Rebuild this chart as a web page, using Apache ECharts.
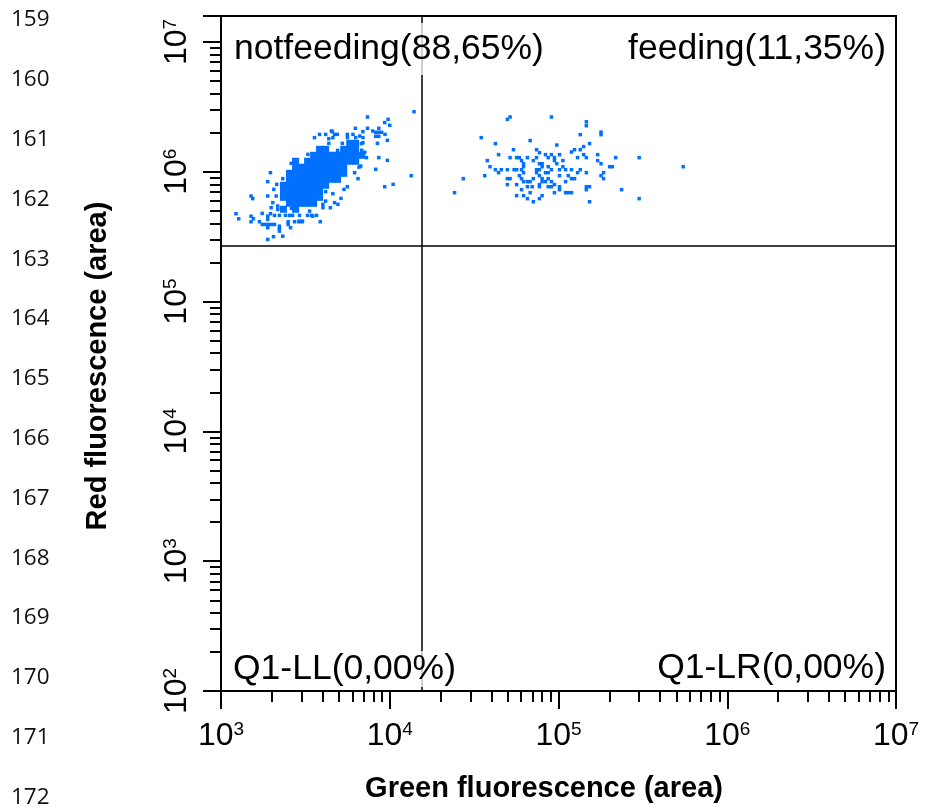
<!DOCTYPE html>
<html>
<head>
<meta charset="utf-8">
<script src="https://cdn.jsdelivr.net/npm/echarts@6.0.0/dist/echarts.min.js"></script>
<style>
html,body{margin:0;padding:0;background:#fff}
#chart{width:928px;height:807px}
</style>
</head>
<body>
<div id="chart"></div>
<script>
// values are log10 of fluorescence (area)
var xRange = [3, 7];
var yRange = [2, 7.2];
var xDecades = [3, 4, 5, 6, 7];
var yDecades = [2, 3, 4, 5, 6, 7];
var minorMultipliers = [2, 3, 4, 5, 6, 7, 8, 9];
var gateGreen = 4.19;
var gateRed = 5.43;
var quadrantNames = ['notfeeding(88,65%)', 'feeding(11,35%)', 'Q1-LL(0,00%)', 'Q1-LR(0,00%)'];
var lineNumbers = [159, 160, 161, 162, 163, 164, 165, 166, 167, 168, 169, 170, 171, 172];

// dense centre of the not-feeding population
var notFeedingCore = [
    [3.763,6.219],[3.798,6.219],
    [3.584,6.173],[3.620,6.173],[3.727,6.173],[3.763,6.173],[3.798,6.173],
    [3.549,6.127],[3.584,6.127],[3.620,6.127],[3.656,6.127],[3.691,6.127],[3.727,6.127],[3.763,6.127],[3.798,6.127],[3.834,6.127],
    [3.442,6.081],[3.513,6.081],[3.549,6.081],[3.584,6.081],[3.620,6.081],[3.656,6.081],[3.691,6.081],[3.727,6.081],[3.763,6.081],[3.798,6.081],
    [3.442,6.035],[3.477,6.035],[3.513,6.035],[3.549,6.035],[3.584,6.035],[3.620,6.035],[3.656,6.035],[3.691,6.035],[3.727,6.035],
    [3.406,5.988],[3.442,5.988],[3.477,5.988],[3.513,5.988],[3.549,5.988],[3.584,5.988],[3.620,5.988],[3.656,5.988],[3.691,5.988],[3.727,5.988],
    [3.406,5.942],[3.442,5.942],[3.477,5.942],[3.513,5.942],[3.549,5.942],[3.584,5.942],[3.620,5.942],[3.656,5.942],[3.691,5.942],
    [3.370,5.896],[3.406,5.896],[3.442,5.896],[3.477,5.896],[3.513,5.896],[3.549,5.896],[3.584,5.896],[3.620,5.896],
    [3.370,5.849],[3.406,5.849],[3.442,5.849],[3.477,5.849],[3.513,5.849],[3.549,5.849],[3.584,5.849],
    [3.370,5.803],[3.406,5.803],[3.442,5.803],[3.477,5.803],[3.513,5.803],[3.549,5.803],[3.584,5.803],
    [3.406,5.757],[3.442,5.757],[3.477,5.757],[3.513,5.757],[3.549,5.757],
    [3.370,5.711],[3.442,5.711]
];

// single events around it
var notFeedingOuter = [
    [4.144,6.463],[3.868,6.422],[3.990,6.404],[3.970,6.379],[4.000,6.358],[3.796,6.335],[3.868,6.335],
    [3.899,6.314],[3.917,6.304],[3.935,6.304],[3.952,6.304],[3.917,6.273],[3.935,6.273],[3.935,6.335],
    [3.972,6.288],[3.986,6.242],[3.660,6.309],[3.584,6.288],[3.620,6.288],[3.689,6.288],[3.554,6.263],
    [3.749,6.288],[3.749,6.263],[3.782,6.288],[3.841,6.309],[3.798,6.263],[3.841,6.263],[3.841,6.224],
    [3.639,6.219],[3.719,6.219],[3.927,6.219],[3.862,6.109],[3.935,6.109],[3.986,6.088],[3.828,6.044],
    [3.917,6.019],[3.812,5.947],[3.749,5.885],[3.970,5.885],[4.020,5.903],[4.127,5.970],[3.729,5.864],
    [3.711,5.795],[3.693,5.749],[3.604,5.749],[3.604,5.723],[3.648,5.723],[3.588,5.615],[3.544,5.658],
    [3.525,5.697],[3.481,5.615],[3.461,5.615],[3.436,5.615],[3.412,5.569],[3.398,5.615],[3.398,5.594],
    [3.366,5.504],[3.346,5.543],[3.346,5.581],[3.311,5.500],[3.277,5.479],[3.293,5.993],[3.416,6.065],
    [3.436,6.088],[3.515,6.134],[3.277,5.924],[3.313,5.864],[3.366,5.947],[3.178,5.813],[3.188,5.793],
    [3.277,5.813],[3.327,5.813],[3.307,5.762],[3.297,5.723],[3.336,5.736],[3.336,5.710],[3.089,5.677],
    [3.105,5.638],[3.178,5.658],[3.178,5.615],[3.192,5.638],[3.228,5.615],[3.244,5.679],[3.277,5.658],
    [3.277,5.633],[3.293,5.677],[3.245,5.594],[3.263,5.594],[3.281,5.594],[3.299,5.594],[3.317,5.594],
    [3.277,5.569],[3.346,5.561],[3.317,5.664],[3.346,5.664],[3.382,5.664],[3.406,5.664],[3.424,5.664],
    [3.465,5.664],[3.513,5.664],[3.537,5.664],[3.566,5.664],[3.418,5.718],[3.465,5.620],[3.483,5.620],
    [3.792,5.993],[3.818,6.036],[3.663,5.831],[3.620,5.847],[3.673,5.762],[3.620,5.774],[3.654,6.314],
    [3.673,6.288],[3.663,6.263],[3.822,6.275],[3.832,6.217],[3.639,6.255],[3.330,5.903],[3.691,6.165],
    [3.834,6.165],[3.852,6.150]
];

var feeding = [
    [4.713,6.422],[4.697,6.404],[4.958,6.422],[5.165,6.385],[5.165,6.355],[5.252,6.306],[5.252,6.286],
    [5.129,6.286],[4.542,6.263],[4.832,6.240],[4.626,6.217],[4.990,6.206],[5.184,6.217],[5.149,6.194],
    [4.733,6.170],[4.870,6.170],[5.095,6.170],[5.077,6.152],[5.129,6.170],[4.887,6.147],[4.645,6.132],
    [4.923,6.132],[4.958,6.132],[5.006,6.132],[5.149,6.132],[5.232,6.132],[4.713,6.109],[4.752,6.109],
    [4.768,6.109],[4.816,6.109],[4.870,6.109],[4.939,6.109],[4.976,6.109],[5.113,6.109],[5.165,6.109],
    [5.339,6.109],[5.478,6.109],[4.578,6.086],[4.781,6.086],[4.851,6.086],[4.976,6.086],[5.026,6.086],
    [5.232,6.086],[4.793,6.062],[4.887,6.062],[4.903,6.062],[4.990,6.062],[5.252,6.062],[4.594,6.039],
    [4.793,6.039],[4.903,6.039],[4.939,6.039],[5.026,6.039],[5.303,6.039],[5.319,6.039],[5.739,6.039],
    [4.626,6.016],[4.661,6.016],[4.697,6.016],[4.737,6.016],[4.752,6.016],[4.781,6.016],[4.870,6.016],
    [4.887,6.016],[4.958,6.016],[5.006,6.016],[5.042,6.016],[5.077,6.016],[5.129,6.016],[4.645,5.993],
    [4.793,5.993],[4.870,5.993],[4.923,5.993],[4.939,5.993],[5.113,5.993],[5.165,5.993],[5.267,5.993],
    [4.563,5.970],[4.768,5.970],[4.887,5.970],[5.006,5.970],[5.058,5.970],[5.252,5.970],[4.436,5.947],
    [4.697,5.947],[4.713,5.947],[4.781,5.947],[4.851,5.947],[4.903,5.947],[4.939,5.947],[5.077,5.947],
    [5.095,5.947],[5.267,5.947],[4.793,5.924],[4.816,5.924],[4.832,5.924],[4.903,5.924],[4.923,5.924],
    [4.958,5.924],[5.042,5.924],[4.697,5.901],[4.752,5.901],[4.887,5.901],[4.976,5.901],[4.816,5.885],
    [4.844,5.885],[4.887,5.885],[4.939,5.885],[4.958,5.885],[5.006,5.885],[5.165,5.885],[5.184,5.885],
    [4.781,5.862],[5.006,5.862],[5.165,5.862],[5.374,5.862],[4.384,5.839],[4.832,5.839],[4.976,5.839],
    [5.042,5.839],[5.058,5.839],[5.077,5.839],[4.752,5.816],[4.793,5.816],[4.903,5.816],[4.816,5.793],
    [4.887,5.793],[5.478,5.793],[4.851,5.769],[5.184,5.769]
];

var chart = echarts.init(document.getElementById('chart'));
var font = '"Liberation Sans", Arial, sans-serif';
var dotStyle = {color: '#0070ff', opacity: 1};

function minorTicks(decades, top) {
    var out = [];
    decades.forEach(function (n) {
        minorMultipliers.forEach(function (k) {
            var v = n + Math.log10(k);
            if (v < top) out.push(v);
        });
    });
    return out;
}
function powerLabel(v) {
    return '{b|10}{s|' + Math.round(v) + '}';
}
var powerRich = {
    b: {fontSize: 32, fontFamily: font, color: '#000'},
    s: {fontSize: 19, fontFamily: font, color: '#000', verticalAlign: 'top'}
};
var thick = {color: '#000', width: 2};

var option = {
    animation: false,
    grid: {
        left: 221, right: 32, top: 16, bottom: 116,
        show: true, borderColor: '#000', borderWidth: 2
    },
    xAxis: [
        {
            type: 'value', min: xRange[0], max: xRange[1], position: 'bottom',
            axisLine: {lineStyle: thick},
            axisTick: {length: 18, lineStyle: thick, customValues: xDecades},
            axisLabel: {customValues: xDecades, margin: 29, formatter: powerLabel, rich: powerRich},
            splitLine: {show: false}
        },
        {
            type: 'value', min: xRange[0], max: xRange[1], position: 'bottom',
            axisLine: {show: false},
            axisTick: {length: 11, lineStyle: thick, customValues: minorTicks(xDecades.slice(0, -1), xRange[1])},
            axisLabel: {show: false},
            splitLine: {show: false}
        }
    ],
    yAxis: [
        {
            type: 'value', min: yRange[0], max: yRange[1], position: 'left',
            axisLine: {lineStyle: thick},
            axisTick: {length: 18, lineStyle: thick, customValues: yDecades.concat([yRange[1]])},
            axisLabel: {customValues: yDecades, rotate: 90, margin: 28, formatter: powerLabel, rich: powerRich},
            splitLine: {show: false}
        },
        {
            type: 'value', min: yRange[0], max: yRange[1], position: 'left',
            axisLine: {show: false},
            axisTick: {length: 11, lineStyle: thick, customValues: minorTicks(yDecades, yRange[1])},
            axisLabel: {show: false},
            splitLine: {show: false}
        }
    ],
    series: [
        {
            name: 'notfeeding core', type: 'scatter', symbol: 'rect', symbolSize: 7,
            itemStyle: dotStyle, silent: true,
            data: notFeedingCore
        },
        {
            name: 'notfeeding', type: 'scatter', symbol: 'rect', symbolSize: 3.5,
            itemStyle: dotStyle, silent: true,
            data: notFeedingOuter,
            markLine: {
                silent: true, symbol: 'none', animation: false,
                label: {show: false},
                lineStyle: {color: '#000', width: 1.5, type: 'solid'},
                data: [{xAxis: gateGreen}, {yAxis: gateRed}]
            }
        },
        {
            name: 'feeding', type: 'scatter', symbol: 'rect', symbolSize: 3.5,
            itemStyle: dotStyle, silent: true,
            data: feeding
        }
    ],
    graphic: []
};

var qFont = '35.5px ' + font;
var titleFont = 'bold 29px ' + font;
option.graphic.push(
    {type: 'text', z: 100, x: 234, y: 49, style: {text: quadrantNames[0], font: qFont, fill: '#000', align: 'left', verticalAlign: 'middle', backgroundColor: 'rgba(255,255,255,0.75)', padding: [8, 0, 8, 0]}},
    {type: 'text', z: 100, x: 886, y: 49, style: {text: quadrantNames[1], font: qFont, fill: '#000', align: 'right', verticalAlign: 'middle'}},
    {type: 'text', z: 100, x: 233, y: 669, style: {text: quadrantNames[2], font: qFont, fill: '#000', align: 'left', verticalAlign: 'middle', backgroundColor: 'rgba(255,255,255,0.75)'}},
    {type: 'text', z: 100, x: 886, y: 668, style: {text: quadrantNames[3], font: qFont, fill: '#000', align: 'right', verticalAlign: 'middle'}},
    {type: 'text', z: 100, x: 544, y: 789, style: {text: 'Green fluorescence (area)', font: titleFont, fill: '#000', align: 'center', verticalAlign: 'middle'}},
    {type: 'text', z: 100, x: 98, y: 366, rotation: Math.PI / 2, style: {text: 'Red fluorescence (area)', font: titleFont, fill: '#000', align: 'center', verticalAlign: 'middle'}}
);
// line numbers from the page margin
lineNumbers.forEach(function (n, i) {
    option.graphic.push({
        type: 'text', x: 11, y: 20 + i * 59.8,
        style: {text: String(n), font: '22.5px "Open Sans", sans-serif', fill: '#111', align: 'left', verticalAlign: 'middle'}
    });
});

chart.setOption(option);
</script>
</body>
</html>
